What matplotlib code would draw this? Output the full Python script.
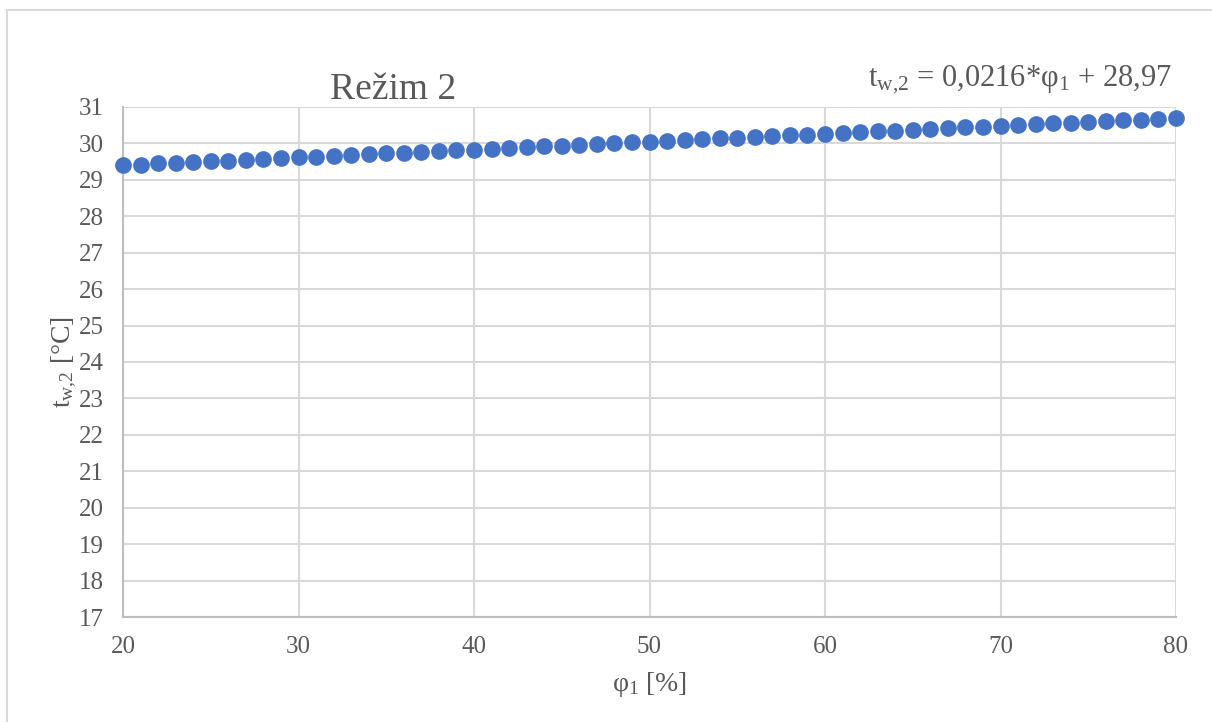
import numpy as np
import matplotlib
matplotlib.use("Agg")
import matplotlib.pyplot as plt
from matplotlib.patches import Rectangle

plt.rcParams["font.family"] = ["Liberation Serif", "DejaVu Serif"]
plt.rcParams["mathtext.fontset"] = "custom"
plt.rcParams["mathtext.rm"] = "Liberation Serif"
plt.rcParams["mathtext.it"] = "Liberation Serif"

# relative humidity phi_1 [%]
phi = np.arange(20, 81)
# water outlet temperature t_w,2 [°C]
t_w2 = [29.40, 29.42, 29.45, 29.47, 29.49, 29.51, 29.53, 29.55, 29.57, 29.60,
        29.62, 29.64, 29.66, 29.68, 29.70, 29.73, 29.75, 29.77, 29.79, 29.81,
        29.83, 29.86, 29.88, 29.90, 29.92, 29.94, 29.96, 29.99, 30.01, 30.03,
        30.05, 30.07, 30.09, 30.11, 30.14, 30.16, 30.18, 30.20, 30.22, 30.24,
        30.27, 30.29, 30.31, 30.33, 30.35, 30.37, 30.40, 30.42, 30.44, 30.46,
        30.48, 30.50, 30.53, 30.55, 30.57, 30.59, 30.61, 30.63, 30.65, 30.68,
        30.70]
x_ticks = [20, 30, 40, 50, 60, 70, 80]
y_ticks = list(range(17, 32))

txt = "#595959"
grid = "#D9D9D9"

fig = plt.figure(figsize=(12.12, 7.22), dpi=100)
# chart-area frame, runs off the right and bottom edge like the original
fig.patches.append(Rectangle((7 / 1212, -10 / 722), 1220 / 1212, 722 / 722,
                             transform=fig.transFigure, fill=False,
                             edgecolor=grid, linewidth=1.5))
ax = fig.add_axes([123 / 1212, 1 - 617 / 722, (1176 - 123) / 1212, (617 - 107) / 722])

ax.plot(phi, t_w2, "o", color="#4472C4", markersize=11, zorder=3, clip_on=False)

ax.set_xlim(20, 80)
ax.set_ylim(17, 31)
ax.set_xticks(x_ticks)
ax.set_yticks(y_ticks)
ax.grid(color=grid, linewidth=1.5)
ax.set_axisbelow(True)
for s in ["top", "right"]:
    ax.spines[s].set_visible(False)
for s in ["left", "bottom"]:
    ax.spines[s].set_color("#BFBFBF")
    ax.spines[s].set_linewidth(1.5)
ax.tick_params(length=0, labelsize=18, labelcolor=txt, pad=14)

ax.set_xlabel("φ$_1$ [%]", fontsize=20, color=txt, labelpad=8)
ax.set_ylabel("t$_{w{,}2}$ [°C]", fontsize=20, color=txt, labelpad=0)

fig.text(393 / 1212, 1 - 90 / 722, "Režim 2", fontsize=27, color=txt,
         ha="center", va="center")
fig.text(1172 / 1212, 1 - 80 / 722, "t$_{w{,}2}$ = 0,0216*φ$_1$ + 28,97",
         fontsize=22, color=txt, ha="right", va="center")

fig.savefig("out.png", dpi=100)
